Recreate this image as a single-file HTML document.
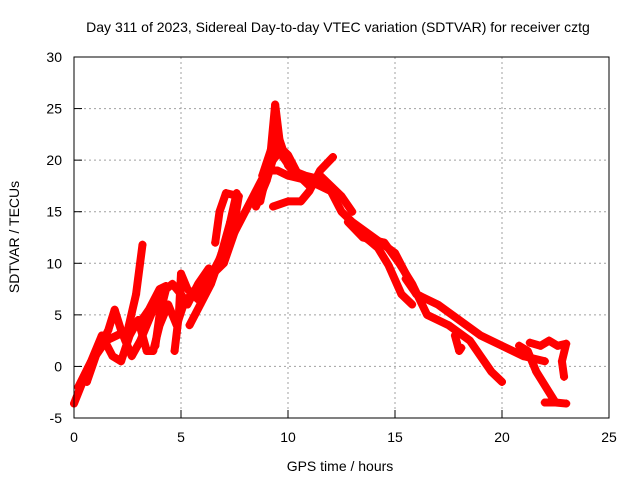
<!DOCTYPE html>
<html><head><meta charset="utf-8"><style>
body{margin:0;background:#fff}
svg{display:block;font-family:"Liberation Sans",sans-serif}
</style></head><body>
<svg id="chart" width="640" height="480" viewBox="0 0 640 480">
<text x="338" y="32" font-size="14" text-anchor="middle">Day 311 of 2023, Sidereal Day-to-day VTEC variation (SDTVAR) for receiver cztg</text>
<text x="340" y="471" font-size="14" text-anchor="middle">GPS time / hours</text>
<text transform="translate(19,237) rotate(-90)" font-size="14" text-anchor="middle">SDTVAR / TECUs</text>
<g id="grid"></g><g id="ticks"></g><g id="series"></g>
<rect x="74" y="57" width="535" height="361" fill="none" stroke="#000" stroke-width="1"/>
</svg>
<script>
const xTicks=[0,5,10,15,20,25];
const yTicks=[-5,0,5,10,15,20,25,30];
const track1=[[0,-3.6],[0.5,-1],[1,1],[1.5,2.5],[2,3],[2.5,3.5],[3,4],[3.5,5.5],[4,7.5],[4.3,7.8]];
const track2=[[0.2,-2],[0.8,0.5],[1.3,3],[1.8,1],[2.2,0.5],[2.6,3],[3,4.5],[3.4,1.5],[3.7,1.5],[4,4],[4.4,6],[4.8,4],[5.2,6.5],[5.6,7],[6,7],[6.5,9],[7,10],[7.5,13]];
const track3=[[2.4,2.5],[2.9,7],[3.2,11.8]];
const track4=[[3.8,2],[4,5],[4.3,7.5],[4.6,8],[5,7],[5.3,6],[5.8,8],[6.3,9.5]];
const track5=[[4.7,1.5],[4.9,5],[5,9],[5.3,7.5],[5.8,6.5],[6.2,8],[6.7,10],[7.2,12],[7.5,14],[7.7,16.5],[7.1,16.8],[6.8,15],[6.6,12]];
const track6=[[7.5,13],[8,15],[8.5,17],[9,19],[9.5,19],[10,18.5],[11,18],[12,17],[12.5,15],[13,14],[14,12.5],[15,11],[15.5,9],[16,7],[17,6],[18,4.5],[19,3],[20,2],[21,1],[22,0.5]];
const track7=[[8.8,18.5],[9.2,21],[9.4,25.4],[9.6,22],[10,19.5],[10.4,18.6]];
const track8=[[8.5,15.5],[9,18],[9.5,21.5],[10,20.5],[10.5,18.5],[11,17.5],[11.5,18.5],[12.5,16.5],[13,15]];
const track9=[[9.3,15.5],[10,16],[10.6,16],[11,17],[11.5,19],[12.1,20.3]];
const track10=[[12.8,14],[13.5,12.5],[14.5,12],[15.2,10],[15.8,8],[16.5,5],[17.5,4],[18.5,2.5],[19,1],[19.5,-0.5],[20,-1.5]];
const track11=[[15.5,8.5],[16,7],[16.2,6.8]];
const track12=[[20.8,2],[21.2,1.5],[21.6,-0.5],[22.2,-2.5],[22.5,-3.5]];
const track13=[[21.3,2.3],[21.8,2],[22.2,2.5],[22.6,2],[23,2.2],[22.8,0.5],[22.9,-1]];
const track14=[[22,-3.5],[22.5,-3.5],[23,-3.6]];
const track15=[[17.8,3],[18,1.5],[18.1,1.8]];
const track16=[[0.6,-1.5],[1.1,1.5],[1.6,3.5],[1.9,5.5],[2.2,3.5],[2.7,1],[3.1,2.5],[3.5,4.5],[3.9,6.5]];
const track17=[[5.4,4],[5.9,6],[6.4,8],[6.9,11],[7.3,14],[7.6,16.8]];
const track18=[[8.7,16],[9.1,19.5],[9.6,20.8],[10.2,19],[10.8,18.5],[11.4,18.2],[12.2,16.8]];
const track19=[[13.3,13],[13.8,12.2],[14.2,11.5],[14.7,9.8],[15.3,7],[15.8,6]];
const tracks=[track1,track2,track3,track4,track5,track6,track7,track8,track9,track10,track11,track12,track13,track14,track15,track16,track17,track18,track19];
const NS="http://www.w3.org/2000/svg";
function xs(t){return 74+t*(535/25);}
function ys(v){return 418-(v+5)*(361/35);}
const grid=document.getElementById('grid'),ticks=document.getElementById('ticks'),ser=document.getElementById('series');
function mk(tag,attrs,parent){const e=document.createElementNS(NS,tag);for(const k in attrs)e.setAttribute(k,attrs[k]);parent.appendChild(e);return e;}
xTicks.forEach(t=>{
  const x=xs(t);
  if(t>0&&t<25){const g=mk('line',{x1:x,x2:x,y1:57,y2:418,stroke:'#a0a0a0','stroke-dasharray':'2,3'},grid);
  
  }
  const l=mk('text',{x:x,y:442,'font-size':14,'text-anchor':'middle'},ticks);l.textContent=t;
  
  
  mk('line',{x1:x,x2:x,y1:418,y2:410,stroke:'#000'},ticks);
});
yTicks.forEach(v=>{
  const y=ys(v);
  if(v>-5&&v<30){const g=mk('line',{x1:74,x2:609,y1:y,y2:y,stroke:'#a0a0a0','stroke-dasharray':'2,3'},grid);
  
  }
  const l=mk('text',{x:62,y:y+5,'font-size':14,'text-anchor':'end'},ticks);l.textContent=v;
  
  
  mk('line',{x1:74,x2:82,y1:y,y2:y,stroke:'#000'},ticks);
});
tracks.forEach((tr,i)=>{
  const p=mk('polyline',{points:tr.map(d=>xs(d[0])+','+ys(d[1])).join(' '),fill:'none',stroke:'#ff0000','stroke-width':8,'stroke-linejoin':'round','stroke-linecap':'round'},ser);
  
  
  tr.forEach(d=>{
    const x=xs(d[0]),y=ys(d[1]);
    const m=mk('path',{d:`M${x-4},${y}H${x+4}M${x},${y-4}V${y+4}`,stroke:'#ff0000','stroke-width':2},ser);
    
    
  });
});
</script>
</body></html>
